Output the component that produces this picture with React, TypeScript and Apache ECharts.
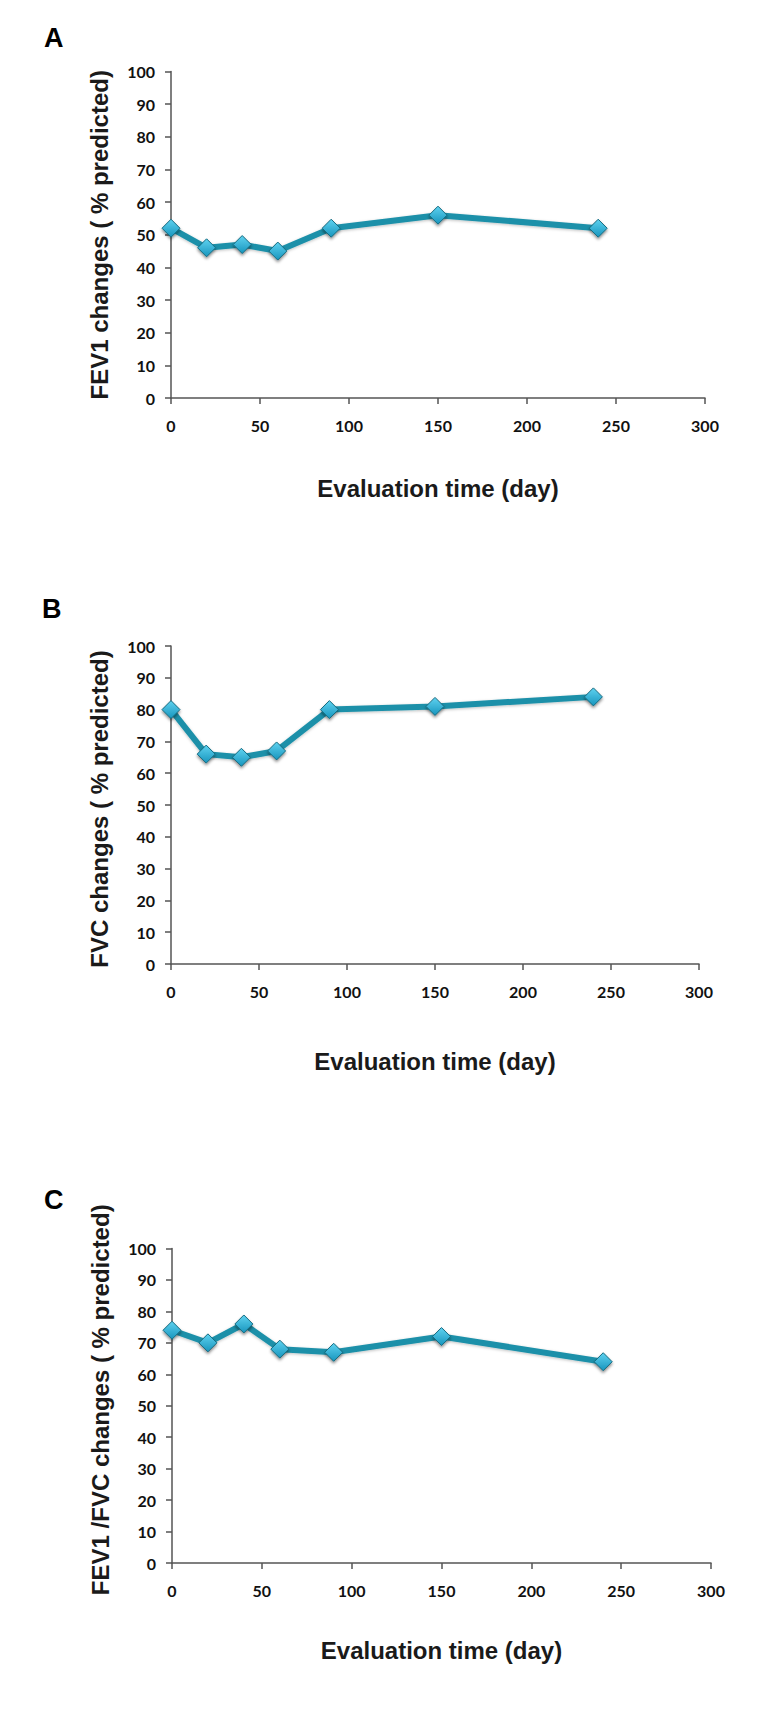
import React, { useEffect, useRef } from "react";
import * as echarts from "echarts";

const days = [0, 20, 40, 60, 90, 150, 240];
const fev1 = [52, 46, 47, 45, 52, 56, 52];
const fvc = [80, 66, 65, 67, 80, 81, 84];
const ratio = [74, 70, 76, 68, 67, 72, 64];

const yTitles = [
  "FEV1 changes ( % predicted)",
  "FVC changes ( % predicted)",
  "FEV1 /FVC changes ( % predicted)",
];
const xTitle = "Evaluation time (day)";
const panelLabels = ["A", "B", "C"];

const grids = [
  { left: 171, right: 66, top: 71.5, height: 326.5 },
  { left: 171, right: 72, top: 646, height: 318 },
  { left: 172, right: 60, top: 1248.5, height: 314.5 },
];
const labelPos = [
  { x: 44, y: 24 },
  { x: 42, y: 595 },
  { x: 44, y: 1186 },
];
const xNameGaps = [78, 85, 75];
const yNamePads = [
  [0, 0, 0, 0],
  [0, 8, 0, 0],
  [0, 0, 0, 12],
];

export default function App() {
  const ref = useRef<HTMLDivElement>(null);
  useEffect(() => {
    if (!ref.current) return;
    const chart = echarts.init(ref.current, null, { renderer: "svg" });
    const seriesData = [fev1, fvc, ratio];
    const axisColor = "#555555";
    const tickFont = {
      fontFamily: "Lato",
      fontWeight: "bold" as const,
      fontSize: 16,
      color: "#111111",
    };
    const titleFont = {
      fontFamily: "Liberation Sans, Arial, sans-serif",
      fontWeight: "bold" as const,
      fontSize: 24,
      color: "#1a1a1a",
    };
    chart.setOption({
      animation: false,
      backgroundColor: "#ffffff",
      grid: grids.map((g) => ({ ...g, containLabel: false })),
      xAxis: grids.map((_, i) => ({
        type: "value",
        gridIndex: i,
        min: 0,
        max: 300,
        interval: 50,
        name: xTitle,
        nameLocation: "middle",
        nameGap: xNameGaps[i],
        nameTextStyle: titleFont,
        axisLine: { show: true, lineStyle: { color: axisColor, width: 1.5 } },
        axisTick: { show: true, inside: false, length: 6, lineStyle: { color: axisColor, width: 1.5 } },
        axisLabel: { ...tickFont, margin: 19 },
        splitLine: { show: false },
      })),
      yAxis: grids.map((_, i) => ({
        type: "value",
        gridIndex: i,
        min: 0,
        max: 100,
        interval: 10,
        name: yTitles[i],
        nameLocation: "middle",
        nameGap: 60,
        nameRotate: 90,
        nameTextStyle: { ...titleFont, padding: yNamePads[i] },
        axisLine: { show: true, lineStyle: { color: axisColor, width: 1.5 } },
        axisTick: { show: true, inside: false, length: 6, lineStyle: { color: axisColor, width: 1.5 } },
        axisLabel: { ...tickFont, margin: 16 },
        splitLine: { show: false },
      })),
      series: seriesData.map((vals, i) => ({
        type: "line",
        xAxisIndex: i,
        yAxisIndex: i,
        data: days.map((d, k) => [d, vals[k]]),
        symbol: "diamond",
        symbolSize: 18,
        lineStyle: {
          color: "#1d90a9",
          width: 6,
          shadowColor: "rgba(0,0,0,0.25)",
          shadowBlur: 3,
          shadowOffsetY: 1,
        },
        itemStyle: {
          color: new echarts.graphic.LinearGradient(0, 0, 0, 1, [
            { offset: 0, color: "#5fd2f0" },
            { offset: 1, color: "#1795bd" },
          ]),
          borderColor: "#166b80",
          borderWidth: 1,
          shadowColor: "rgba(0,0,0,0.45)",
          shadowBlur: 3,
          shadowOffsetY: 2,
        },
        z: 3,
      })),
      graphic: panelLabels.map((t, i) => ({
        type: "text",
        left: labelPos[i].x,
        top: labelPos[i].y,
        style: {
          text: t,
          fontFamily: "Liberation Sans, Arial, sans-serif",
          fontWeight: "bold",
          fontSize: 27,
          fill: "#000000",
        },
      })),
    });
    return () => chart.dispose();
  }, []);
  return (
    <div
      ref={ref}
      style={{ position: "absolute", left: 0, top: 0, width: 771, height: 1716 }}
    />
  );
}
